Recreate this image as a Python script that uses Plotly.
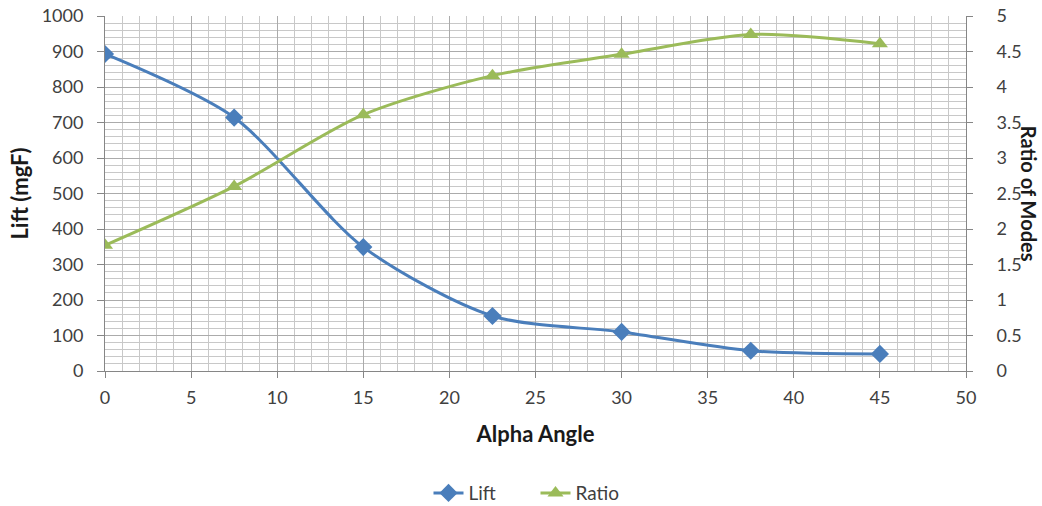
import plotly.graph_objects as go

alpha = [0, 7.5, 15, 22.5, 30, 37.5, 45]
lift = [893, 714, 349, 155, 110, 57, 48]
ratio = [1.77, 2.6, 3.61, 4.16, 4.46, 4.74, 4.61]

blue = "#4A7EBB"
green = "#9BBB59"
font_family = "Lato, Open Sans, sans-serif"

fig = go.Figure()
fig.add_trace(go.Scatter(
    x=alpha, y=lift, name="Lift", mode="lines+markers",
    line=dict(color=blue, width=3, shape="spline", smoothing=0.8),
    marker=dict(symbol="diamond", size=14, color=blue),
    yaxis="y"))
fig.add_trace(go.Scatter(
    x=alpha, y=ratio, name="Ratio", mode="lines+markers",
    line=dict(color=green, width=3, shape="spline", smoothing=0.8),
    marker=dict(symbol="triangle-up", size=14, color=green),
    yaxis="y2"))

gridc = "#C8C8C8"
axc = "#868686"
fig.update_layout(
    width=1042, height=506,
    margin=dict(l=105, r=76, t=16, b=135, autoexpand=False),
    paper_bgcolor="white", plot_bgcolor="white",
    font=dict(family=font_family, size=18, color="#404040"),
    showlegend=True,
    legend=dict(orientation="h", x=0.5, xanchor="center", y=-0.344, yanchor="middle",
                entrywidth=62, font=dict(size=19, color="#404040")),
    xaxis=dict(range=[0, 50], dtick=5, tick0=0, showgrid=True, gridcolor="#ABABAB", gridwidth=1,
               minor=dict(dtick=1, showgrid=True, gridcolor=gridc, ticks=""),
               showline=True, linecolor=axc, ticks="outside", ticklen=6, tickcolor=axc,
               zeroline=False, automargin=False, ticklabelstandoff=4,
               title=dict(text="<b>Alpha Angle</b>", font=dict(size=22, color="#1A1A1A"), standoff=20)),
    yaxis=dict(range=[0, 1000], dtick=100, showgrid=True, gridcolor="#ABABAB",
               minor=dict(dtick=20, showgrid=True, gridcolor=gridc, ticks=""),
               showline=True, linecolor=axc, ticks="outside", ticklen=7, tickcolor=axc,
               zeroline=False, automargin=False, ticklabelstandoff=10, ticklabeloverflow="allow",
               title=dict(text="<b>Lift (mgF)</b>", font=dict(size=22, color="#1A1A1A"), standoff=6)),
    yaxis2=dict(range=[0, 5], dtick=0.5, overlaying="y", side="right", showgrid=False,
                showline=True, linecolor=axc, ticks="outside", ticklen=6, tickcolor=axc,
                zeroline=False, automargin=False, ticklabelstandoff=20, ticklabeloverflow="allow"),
    annotations=[dict(text="<b>Ratio of Modes</b>", textangle=90, x=1.074, y=0.5,
                      xref="paper", yref="paper", showarrow=False, xanchor="center", yanchor="middle",
                      font=dict(size=20, color="#1A1A1A"))],
)
# remove the default 8px page margin so the figure fills the window exactly
fig.write_html("out.html", post_script="document.body.style.margin='0';",
               config={"displayModeBar": False})
